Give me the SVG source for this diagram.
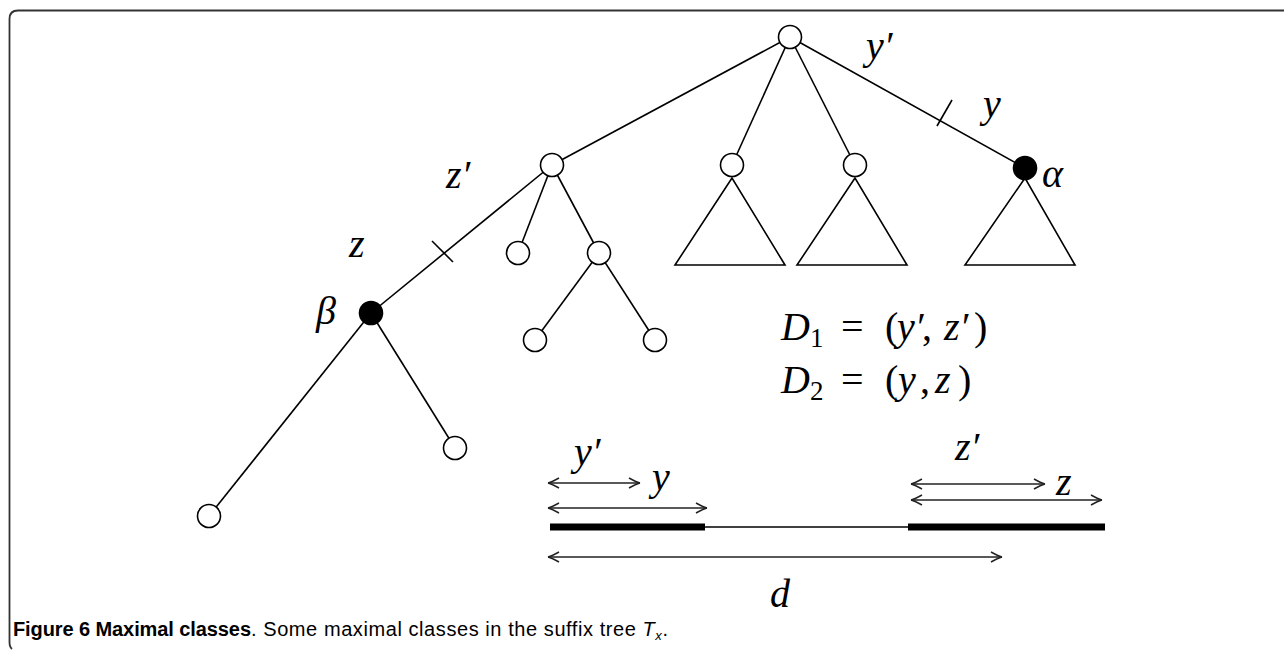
<svg xmlns="http://www.w3.org/2000/svg" width="1284" height="650" viewBox="0 0 1284 650">
<defs>
<style>
.edge{stroke:#000;stroke-width:1.6;fill:none}
.node{fill:#fff;stroke:#000;stroke-width:1.6}
.filled{fill:#000;stroke:#000;stroke-width:1.6}
.tri{fill:#fff;stroke:#000;stroke-width:1.6;stroke-linejoin:miter}
.lbl{font-family:"Liberation Serif","Times New Roman",serif;font-style:italic;font-size:40px;fill:#000}
.eq{font-family:"Liberation Serif","Times New Roman",serif;font-size:40px;fill:#000}
.it{font-style:italic}
.dim{stroke:#222;stroke-width:1.5;fill:none}
.bar{stroke:#000;stroke-width:7;fill:none}
.thin{stroke:#000;stroke-width:1.4;fill:none}
.cap{font-family:"Liberation Sans",Arial,sans-serif;font-size:20px;fill:#000}
</style>
<marker id="ah" markerUnits="userSpaceOnUse" markerWidth="14" markerHeight="12" viewBox="-12 -6 14 12" refX="0" refY="0" orient="auto-start-reverse">
<path d="M -11 -5 Q -4 -1 0 0 M -11 5 Q -4 1 0 0" stroke="#222" stroke-width="1.5" fill="none"/>
</marker>
</defs>
<rect width="1284" height="650" fill="#fff"/>
<path d="M 1284 10.5 H 18 Q 9.5 10.5 9.5 19 V 642 Q 9.5 647 12 649" fill="none" stroke="#333" stroke-width="1.8"/>

<g id="connectors">
<line class="edge" x1="790" y1="37" x2="552" y2="165"/>
<line class="edge" x1="790" y1="37" x2="732" y2="165"/>
<line class="edge" x1="790" y1="37" x2="855" y2="165"/>
<line class="edge" x1="790" y1="37" x2="1025" y2="168"/>
<line class="edge" x1="937" y1="126" x2="952" y2="100"/>
<line class="edge" x1="552" y1="165" x2="371" y2="313"/>
<line class="edge" x1="432" y1="241" x2="453" y2="262"/>
<line class="edge" x1="552" y1="165" x2="518" y2="253"/>
<line class="edge" x1="552" y1="165" x2="599" y2="253"/>
<line class="edge" x1="599" y1="253" x2="535" y2="340"/>
<line class="edge" x1="599" y1="253" x2="655" y2="340"/>
<line class="edge" x1="371" y1="313" x2="455" y2="448"/>
<line class="edge" x1="371" y1="313" x2="209" y2="516"/>
</g>

<g id="tri1"><polygon class="tri" points="732,178 675,265 785,265"/></g>
<g id="tri2"><polygon class="tri" points="855,178 797,265 907,265"/></g>
<g id="tri3"><polygon class="tri" points="1025,178 965,265 1075,265"/></g>

<g id="root"><circle class="node" cx="790" cy="37" r="11.5"/></g>
<g id="n1"><circle class="node" cx="552" cy="165" r="11.5"/></g>
<g id="n2"><circle class="node" cx="732" cy="165" r="11.5"/></g>
<g id="n3"><circle class="node" cx="855" cy="165" r="11.5"/></g>
<g id="alpha"><circle class="filled" cx="1025" cy="168" r="11.5"/><text class="lbl" x="1042" y="187">α</text></g>
<g id="n4"><circle class="node" cx="518" cy="253" r="11.5"/></g>
<g id="n5"><circle class="node" cx="599" cy="253" r="11.5"/></g>
<g id="n6"><circle class="node" cx="535" cy="340" r="11.5"/></g>
<g id="n7"><circle class="node" cx="655" cy="340" r="11.5"/></g>
<g id="beta"><circle class="filled" cx="371" cy="313" r="11.5"/><text class="lbl" x="316" y="324">β</text></g>
<g id="n8"><circle class="node" cx="455" cy="448" r="11.5"/></g>
<g id="n9"><circle class="node" cx="209" cy="516" r="11.5"/></g>

<g id="edge-labels">
<text class="lbl" x="866" y="59">y′</text>
<text class="lbl" x="983" y="117">y</text>
<text class="lbl" x="446" y="188">z′</text>
<text class="lbl" x="349" y="257">z</text>
</g>

<g id="equations">
<text class="eq" y="340"><tspan class="it" x="781">D</tspan><tspan x="810" y="347" font-size="27">1</tspan><tspan x="841" y="340">=</tspan><tspan x="885">(</tspan><tspan class="it" x="897">y′</tspan><tspan x="922">,</tspan><tspan class="it" x="944">z′</tspan><tspan x="974">)</tspan></text>
<text class="eq" y="393"><tspan class="it" x="781">D</tspan><tspan x="810" y="400" font-size="27">2</tspan><tspan x="841" y="393">=</tspan><tspan x="885">(</tspan><tspan class="it" x="898">y</tspan><tspan x="920">,</tspan><tspan class="it" x="935">z</tspan><tspan x="958">)</tspan></text>
</g>

<g id="segments">
<line class="bar" x1="550" y1="527" x2="705" y2="527"/>
<line class="thin" x1="705" y1="527" x2="908" y2="527"/>
<line class="bar" x1="908" y1="527" x2="1105" y2="527"/>
<line class="dim" x1="548" y1="483" x2="640" y2="483" marker-start="url(#ah)" marker-end="url(#ah)"/>
<line class="dim" x1="548" y1="508" x2="707" y2="508" marker-start="url(#ah)" marker-end="url(#ah)"/>
<line class="dim" x1="911" y1="484" x2="1045" y2="484" marker-start="url(#ah)" marker-end="url(#ah)"/>
<line class="dim" x1="911" y1="500" x2="1102" y2="500" marker-start="url(#ah)" marker-end="url(#ah)"/>
<line class="dim" x1="548" y1="557" x2="1002" y2="557" marker-start="url(#ah)" marker-end="url(#ah)"/>
<text class="lbl" x="574" y="465">y′</text>
<text class="lbl" x="652" y="490">y</text>
<text class="lbl" x="955" y="460">z′</text>
<text class="lbl" x="1056" y="495">z</text>
<text class="lbl" x="770" y="607">d</text>
</g>

<g id="caption">
<text class="cap" x="13" y="636" font-weight="bold" textLength="238">Figure 6 Maximal classes</text>
<text class="cap" x="251" y="636" textLength="417">. Some maximal classes in the suffix tree <tspan font-style="italic">T</tspan><tspan font-style="italic" font-size="13" dy="4">x</tspan><tspan dy="-4">.</tspan></text>
</g>
</svg>
